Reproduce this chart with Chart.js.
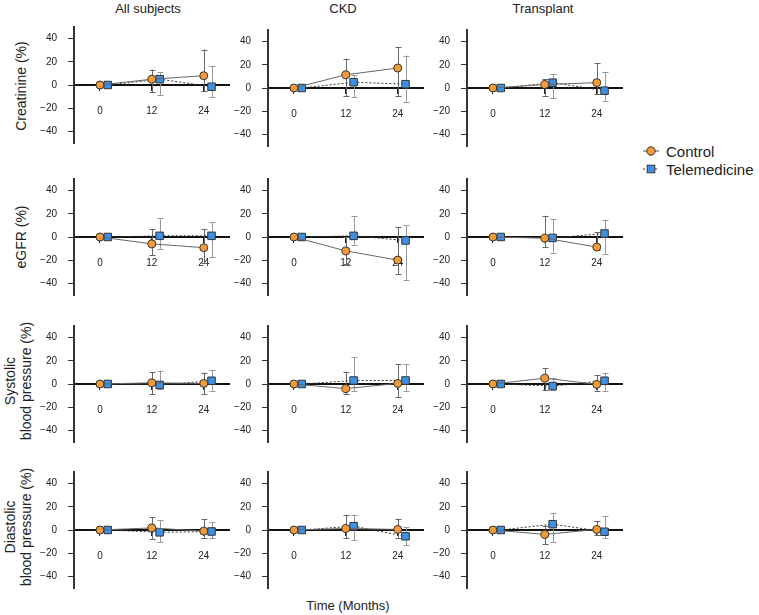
<!DOCTYPE html>
<html>
<head>
<meta charset="utf-8">
<script src="https://cdn.jsdelivr.net/npm/chart.js@4.4.1/dist/chart.umd.min.js"></script>
<style>
  html, body { margin: 0; padding: 0; background: #fff; }
  body { width: 759px; height: 615px; position: relative; overflow: hidden;
         font-family: "Liberation Sans", Arial, sans-serif; color: #222; }
  .panel { position: absolute; }
  .coltitle { position: absolute; font-size: 13px; transform: translate(-50%, -50%); white-space: nowrap; }
  .rowtitle { position: absolute; font-size: 14px; line-height: 16px; text-align: center; white-space: nowrap;
              transform: translate(-50%, -50%) rotate(-90deg); }
  .xtitle { position: absolute; font-size: 13px; transform: translate(-50%, -50%); white-space: nowrap; }
  .legend { position: absolute; left: 642px; top: 142px; font-size: 15px; }
  .legend div { height: 18px; display: flex; align-items: center; }
  .legend svg { margin-right: 6px; }
</style>
</head>
<body>
<script>
// ---------------- DATA ----------------
const months = [0, 12, 24];
const groups = ['All subjects', 'CKD', 'Transplant'];
const metrics = ['Creatinine (%)', 'eGFR (%)', 'Systolic\nblood pressure (%)', 'Diastolic\nblood pressure (%)'];
const seriesNames = ['Control', 'Telemedicine'];
const yTickValues = [-40, -20, 0, 20, 40];

// each array: one row of 3 values (months 0,12,24) per group (All, CKD, Transplant)
const creatinineControl     = [[0, 5, 8],      [0, 11.4, 17.2], [0, 3, 4.6]];
const creatinineControlHi   = [[0, 13.3, 30.5],[0, 25.3, 35],   [0, 7.6, 21.3]];
const creatinineControlLo   = [[0, -6.4, -5.4],[0, -7.3, -7.3], [0, -6.8, -5]];
const creatinineTele        = [[0, 5, -1.5],   [0, 5, 3.3],     [0, 4.6, -2.3]];
const creatinineTeleHi      = [[0, 10.8, 16.7],[0, 11, 28],     [0, 12.2, 14]];
const creatinineTeleLo      = [[0, -8.7, -10.5],[0, -8, -12],   [0, -8.9, -11]];

const egfrControl           = [[0, -5.9, -9.2],  [0, -12, -19.9], [0, -1, -8.7]];
const egfrControlHi         = [[0, 6.6, 6.6],    [0, 0, 8.2],     [0, 18.3, 4]];
const egfrControlLo         = [[0, -15.8, -22.4],[0, -23.7, -31.8],[0, -8.9, -11.5]];
const egfrTele              = [[0, 1, 1],        [0, 1, -3],      [0, -0.8, 3]];
const egfrTeleHi            = [[0, 16, 13],      [0, 17.8, 10],   [0, 15.3, 14.8]];
const egfrTeleLo            = [[0, -10.2, -17.3],[0, -6.6, -37],  [0, -13.5, -14.8]];

const systolicControl       = [[0, 1, 0.5],    [0, -4, 0.5],    [0, 5, -0.3]];
const systolicControlHi     = [[0, 10.5, 9.7], [0, 10.5, 17],   [0, 13.6, 7.7]];
const systolicControlLo     = [[0, -8.7, -9],  [0, -8.7, -11.3],[0, -5, -6]];
const systolicTele          = [[0, -0.8, 2.8], [0, 3, 3],       [0, -1.8, 2.8]];
const systolicTeleHi        = [[0, 11.5, 12.3],[0, 23.3, 17],   [0, 5, 9.7]];
const systolicTeleLo        = [[0, -4.4, -5.9],[0, -5.9, -5.9], [0, -5, -6.4]];

const diastolicControl      = [[0, 1.8, -1],   [0, 1.3, 0.5],   [0, -3.8, 0.5]];
const diastolicControlHi    = [[0, 11.2, 9.2], [0, 13.2, 9.7],  [0, 3.6, 7.6]];
const diastolicControlLo    = [[0, -7.6, -6.6],[0, -7.1, -6.6], [0, -12.2, -4]];
const diastolicTele         = [[0, -2, -1.3],  [0, 3.3, -5.4],  [0, 5, -1.5]];
const diastolicTeleHi       = [[0, 8.7, 7.1],  [0, 13.2, 2.5],  [0, 14.8, 12]];
const diastolicTeleLo       = [[0, -10.7, -7.1],[0, -8.7, -13.2],[0, -10.7, -7.1]];

const metricData = [
  [creatinineControl, creatinineControlLo, creatinineControlHi, creatinineTele, creatinineTeleLo, creatinineTeleHi],
  [egfrControl, egfrControlLo, egfrControlHi, egfrTele, egfrTeleLo, egfrTeleHi],
  [systolicControl, systolicControlLo, systolicControlHi, systolicTele, systolicTeleLo, systolicTeleHi],
  [diastolicControl, diastolicControlLo, diastolicControlHi, diastolicTele, diastolicTeleLo, diastolicTeleHi]
];

// ---------------- LAYOUT / STYLE ----------------
const axisX = [74, 268, 467];
const zeroY = [[85, 88, 88], [237, 237, 237], [384, 384, 384], [530, 530, 530]];
const plotW = 157, halfH = 65;
const padL = 48, padR = 5, padT = 10, padB = 10;
const teleOffset = 1.8;
const orange = '#F39B37', blue = '#3F8FE3';

// error bar plugin: draws whiskers through the chart's scales
const errorBars = {
  id: 'errorBars',
  beforeDatasetsDraw(chart) {
    const ctx = chart.ctx, xs = chart.scales.x, ys = chart.scales.y;
    chart.data.datasets.forEach((ds) => {
      ctx.save();
      ctx.strokeStyle = ds.errColor;
      ctx.lineWidth = 1;
      ds.data.forEach((p, i) => {
        const lo = ds.errLo[i], hi = ds.errHi[i];
        if (lo === hi) return;
        const x = Math.round(xs.getPixelForValue(p.x)) + 0.5;
        const y1 = ys.getPixelForValue(hi), y2 = ys.getPixelForValue(lo);
        ctx.beginPath();
        ctx.moveTo(x, y1); ctx.lineTo(x, y2);
        ctx.moveTo(x - 3, Math.round(y1) + 0.5); ctx.lineTo(x + 3, Math.round(y1) + 0.5);
        ctx.moveTo(x - 3, Math.round(y2) + 0.5); ctx.lineTo(x + 3, Math.round(y2) + 0.5);
        ctx.stroke();
      });
      ctx.restore();
    });
  }
};

function addText(cls, text, x, y) {
  const d = document.createElement('div');
  d.className = cls;
  d.style.left = x + 'px';
  d.style.top = y + 'px';
  d.innerHTML = text.split('\n').join('<br>');
  document.body.appendChild(d);
}

// column titles, row titles, x title
const colTitleX = [148, 343, 543];
groups.forEach((g, c) => addText('coltitle', g, colTitleX[c], 8));
const rowTitleX = [21, 21, 18, 18];
const rowTitleY = [86, 237, 381, 527];
metrics.forEach((m, r) => addText('rowtitle', m, rowTitleX[r], rowTitleY[r]));
addText('xtitle', 'Time (Months)', 348, 605);

// legend
const leg = document.createElement('div');
leg.className = 'legend';
leg.innerHTML =
  '<div><svg width="18" height="12"><line x1="1" y1="6" x2="17" y2="6" stroke="#555" stroke-width="1"/>' +
  '<circle cx="9" cy="6" r="4.2" fill="' + orange + '" stroke="#333" stroke-width="1"/></svg>' + seriesNames[0] + '</div>' +
  '<div><svg width="18" height="12"><line x1="1" y1="6" x2="17" y2="6" stroke="#333" stroke-width="1" stroke-dasharray="2,2"/>' +
  '<rect x="5.2" y="2.2" width="7.6" height="7.6" fill="' + blue + '" stroke="#333" stroke-width="1"/></svg>' + seriesNames[1] + '</div>';
document.body.appendChild(leg);

// panels
metricData.forEach((arrs, r) => {
  const [cM, cLo, cHi, tM, tLo, tHi] = arrs;
  groups.forEach((g, c) => {
    const W = padL + plotW + padR, H = padT + 2 * halfH + padB;
    const div = document.createElement('div');
    div.className = 'panel';
    div.style.left = (axisX[c] - padL) + 'px';
    div.style.top = (zeroY[r][c] - halfH - padT) + 'px';
    div.style.width = W + 'px';
    div.style.height = H + 'px';
    const cv = document.createElement('canvas');
    cv.width = W; cv.height = H;
    div.appendChild(cv);
    document.body.appendChild(div);

    new Chart(cv, {
      type: 'line',
      data: {
        datasets: [
          {
            label: seriesNames[0],
            data: months.map((m, i) => ({ x: m, y: cM[c][i] })),
            errLo: cLo[c], errHi: cHi[c], errColor: '#666',
            borderColor: '#666', borderWidth: 1,
            pointStyle: 'circle', pointRadius: 4, pointBackgroundColor: orange,
            pointBorderColor: '#333', pointBorderWidth: 1, tension: 0
          },
          {
            label: seriesNames[1],
            data: months.map((m, i) => ({ x: m + teleOffset, y: tM[c][i] })),
            errLo: tLo[c], errHi: tHi[c], errColor: '#999',
            borderColor: '#333', borderWidth: 1, borderDash: [2, 2],
            pointStyle: 'rect', pointRadius: 5.3, pointBackgroundColor: blue,
            pointBorderColor: '#333', pointBorderWidth: 1, tension: 0
          }
        ]
      },
      options: {
        responsive: false,
        animation: false,
        events: [],
        layout: { padding: { left: 0, right: padR, top: padT, bottom: padB } },
        plugins: { legend: { display: false }, tooltip: { enabled: false }, title: { display: false } },
        scales: {
          x: {
            type: 'linear', min: -6, max: 30,
            position: { y: 0 },
            afterBuildTicks: (s) => { s.ticks = months.map(v => ({ value: v })); },
            ticks: { color: '#222', font: { size: 10, family: 'Liberation Sans, Arial, sans-serif' }, padding: 15, maxRotation: 0 },
            grid: { display: true, drawOnChartArea: false, drawTicks: true, tickLength: 5, color: '#222' },
            border: { display: true, color: '#111', width: 2 }
          },
          y: {
            type: 'linear', min: -50, max: 50,
            afterFit: (s) => { s.width = padL; },
            afterBuildTicks: (s) => { s.ticks = yTickValues.map(v => ({ value: v })); },
            ticks: { color: '#222', font: { size: 10, family: 'Liberation Sans, Arial, sans-serif' }, padding: 11,
                     callback: (v) => String(v).replace('-', '\u2212') },
            grid: { display: true, drawOnChartArea: false, drawTicks: true, tickLength: 6, color: '#333' },
            border: { display: true, color: '#333', width: 2 }
          }
        }
      },
      plugins: [errorBars]
    });
  });
});
</script>
</body>
</html>
